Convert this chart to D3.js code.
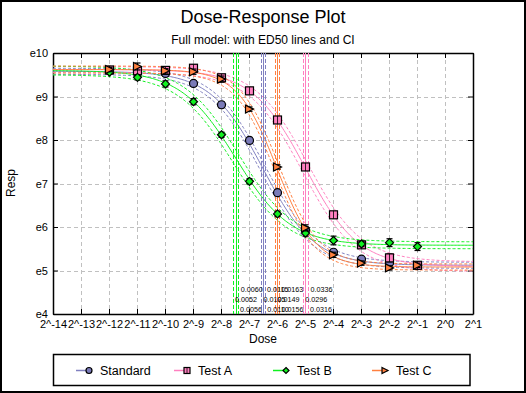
<!DOCTYPE html>
<html><head><meta charset="utf-8">
<script src="https://cdnjs.cloudflare.com/ajax/libs/d3/7.8.5/d3.min.js"></script>
<style>
html,body{margin:0;padding:0;background:#fff;}
svg{display:block;font-family:"Liberation Sans",Arial,sans-serif;}
</style></head>
<body>
<script>
// ---- data ----
const doseLog2 = [-12,-11,-10,-9,-8,-7,-6,-5,-4,-3,-2,-1];           // dose = 2^x
const seriesNames = ["Standard","Test A","Test B","Test C"];
// responses as powers of ten (e.g. 9.5 means e9.5)
const standardResp = [9.59,9.56,9.53,9.30,8.81,7.99,6.79,5.93,5.42,5.26,5.17,5.11];
const testAResp    = [9.61,9.59,9.60,9.65,9.43,9.13,8.46,7.38,6.28,5.59,5.29,5.12];
const testBResp    = [9.56,9.44,9.29,8.88,8.12,7.05,6.30,5.86,5.69,5.61,5.64,5.55];
const testCResp    = [9.62,9.69,9.59,9.57,9.40,8.71,7.38,5.98,5.36,5.17,5.06,5.12];
const standardErr  = [0.05,0.05,0.05,0.06,0.07,0.07,0.06,0.07,0.06,0.05,0.05,0.05];
const testAErr     = [0.05,0.06,0.05,0.08,0.06,0.05,0.05,0.05,0.05,0.05,0.09,0.05];
const testBErr     = [0.05,0.06,0.07,0.07,0.06,0.06,0.06,0.07,0.10,0.06,0.09,0.09];
const testCErr     = [0.05,0.08,0.05,0.06,0.07,0.05,0.05,0.07,0.06,0.05,0.05,0.05];
// fitted 4-parameter model: top, bottom (powers of ten), slope, ED50 with CI
const fitTop    = [9.58,9.62,9.60,9.62];
const fitBottom = [5.12,5.09,5.58,5.08];
const fitSlope  = [1.08,1.05,1.02,1.42];
const ed50      = [0.0110,0.0316,0.0056,0.0156];
const ed50Lower = [0.0105,0.0296,0.0052,0.0149];
const ed50Upper = [0.0115,0.0336,0.0060,0.0163];
const topCI     = [0.07,0.07,0.10,0.08];
const bottomCI  = [0.07,0.11,0.08,0.07];
const xTickLog2 = d3.range(-14, 2);          // 2^-14 .. 2^1
const yTickPow  = [4,5,6,7,8,9,10];          // e4 .. e10

const colors = ["#8080c0","#ff80c0","#10f020","#ff8040"];
const fills  = ["#7a7ab8","#ff80c0","#10f020","#ff8040"];
const markerTypes = ["circle","square","diamond","triangle"];
const respData = [standardResp,testAResp,testBResp,testCResp];
const errData  = [standardErr,testAErr,testBErr,testCErr];

// ---- layout ----
const W=526,H=393;
const L=53,R=473,T=53,B=314;
const svg=d3.select("body").append("svg").attr("width",W).attr("height",H);
svg.append("rect").attr("x",1).attr("y",1).attr("width",W-2).attr("height",H-2)
  .attr("fill","#fff").attr("stroke","#000").attr("stroke-width",2);

const x=d3.scaleLog().base(2).domain([Math.pow(2,-14),Math.pow(2,1)]).range([L,R]);
const y=d3.scaleLinear().domain([4,10]).range([B,T]);
const xTicks=xTickLog2.map(v=>Math.pow(2,v));

// title
svg.append("text").attr("x",263).attr("y",23).attr("text-anchor","middle")
  .attr("font-size",18).text("Dose-Response Plot");
svg.append("text").attr("x",263).attr("y",44).attr("text-anchor","middle")
  .attr("font-size",12).text("Full model: with ED50 lines and CI");

// grid
const grid=svg.append("g").attr("stroke","#c0c0c0").attr("stroke-dasharray","4,3").attr("stroke-width",1);
xTicks.slice(1,-1).forEach(t=>grid.append("line").attr("x1",Math.round(x(t))+0.5).attr("x2",Math.round(x(t))+0.5).attr("y1",T).attr("y2",B));
yTickPow.slice(1,-1).forEach(t=>grid.append("line").attr("y1",Math.round(y(t))+0.5).attr("y2",Math.round(y(t))+0.5).attr("x1",L).attr("x2",R));

// axes
const fmtX=d=>"2^"+Math.round(Math.log2(d));
const gx=svg.append("g").attr("transform",`translate(0,${B})`)
  .call(d3.axisBottom(x).tickValues(xTicks).tickFormat(fmtX).tickSizeInner(-5).tickSizeOuter(0).tickPadding(6));
const gxt=svg.append("g").attr("transform",`translate(0,${T})`)
  .call(d3.axisTop(x).tickValues(xTicks).tickFormat("").tickSizeInner(-5).tickSizeOuter(0));
const gy=svg.append("g").attr("transform",`translate(${L},0)`)
  .call(d3.axisLeft(y).tickValues(yTickPow).tickFormat(d=>"e"+d).tickSizeInner(-5).tickSizeOuter(0).tickPadding(5));
const gyr=svg.append("g").attr("transform",`translate(${R},0)`)
  .call(d3.axisRight(y).tickValues(yTickPow).tickFormat("").tickSizeInner(-5).tickSizeOuter(0));
[gx,gxt,gy,gyr].forEach(g=>{
  g.selectAll("path").attr("stroke","#000").attr("stroke-width",1.5);
  g.selectAll("line").attr("stroke","#000");
  g.selectAll("text").attr("font-size",11).attr("fill","#000").attr("font-family","Liberation Sans, Arial, sans-serif");
});

// axis titles
svg.append("text").attr("x",263).attr("y",343).attr("text-anchor","middle").attr("font-size",12).text("Dose");
svg.append("text").attr("transform","translate(15,183) rotate(-90)").attr("text-anchor","middle").attr("font-size",12).text("Resp");

// fitted curves
const curveX=d3.range(-14,1.0001,0.05);
function model(i,lx,top,bot,e){
  return bot+(top-bot)/(1+Math.exp(fitSlope[i]*(lx-Math.log2(e))));
}
const line=d3.line().x(d=>x(Math.pow(2,d[0]))).y(d=>y(d[1]));
const curves=svg.append("g").attr("fill","none");
[0,1,2,3].forEach(i=>{
  const fit=curveX.map(lx=>[lx,model(i,lx,fitTop[i],fitBottom[i],ed50[i])]);
  const up=curveX.map(lx=>[lx,model(i,lx,fitTop[i]+topCI[i],fitBottom[i]+bottomCI[i],ed50Upper[i])]);
  const lo=curveX.map(lx=>[lx,model(i,lx,fitTop[i]-topCI[i],fitBottom[i]-bottomCI[i],ed50Lower[i])]);
  [up,lo].forEach(c=>curves.append("path").attr("d",line(c)).attr("stroke",colors[i]).attr("stroke-width",1).attr("stroke-dasharray","3,2"));
  curves.append("path").attr("d",line(fit)).attr("stroke",colors[i]).attr("stroke-width",1);
});

// ED50 lines
const edg=svg.append("g");
[0,1,2,3].forEach(i=>{
  [[ed50Lower[i],"4,2"],[ed50[i],null],[ed50Upper[i],"4,2"]].forEach(([v,da])=>{
    const xx=Math.round(x(v))+0.5;
    const l=edg.append("line").attr("x1",xx).attr("x2",xx).attr("y1",T).attr("y2",B)
      .attr("stroke",colors[i]).attr("stroke-width",1);
    if(da) l.attr("stroke-dasharray",da);
  });
});

// ED50 labels
const fmt4=d3.format(".4f");
const lab=svg.append("g").attr("font-size",7.2).attr("fill","#000");
[0,1,2,3].forEach(i=>{
  lab.append("text").attr("x",x(ed50Upper[i])+2.5).attr("y",292).text(fmt4(ed50Upper[i]));
  lab.append("text").attr("x",x(ed50Lower[i])+2.5).attr("y",302).text(fmt4(ed50Lower[i]));
  lab.append("text").attr("x",x(ed50[i])+4.5).attr("y",312).text(fmt4(ed50[i]));
});

// markers
function marker(g,type,cx,cy,s,fill){
  if(type==="circle"){
    g.append("circle").attr("cx",cx).attr("cy",cy).attr("r",s/2).attr("fill",fill).attr("stroke","#000").attr("stroke-width",1.2);
  } else if(type==="square"){
    g.append("rect").attr("x",cx-s/2).attr("y",cy-s/2).attr("width",s).attr("height",s).attr("fill",fill).attr("stroke","#000").attr("stroke-width",1.2);
    g.append("line").attr("x1",cx).attr("x2",cx).attr("y1",cy-s/2).attr("y2",cy+s/2).attr("stroke","#000").attr("stroke-width",0.8);
  } else if(type==="diamond"){
    const r=s/2;
    g.append("path").attr("d",`M${cx},${cy-r}L${cx+r},${cy}L${cx},${cy+r}L${cx-r},${cy}Z`).attr("fill",fill).attr("stroke","#000").attr("stroke-width",1.2);
  } else {
    const r=s/2;
    g.append("path").attr("d",`M${cx-r},${cy-r}L${cx+r},${cy}L${cx-r},${cy+r}Z`).attr("fill",fill).attr("stroke","#000").attr("stroke-width",1.2);
  }
}
const pts=svg.append("g");
[0,1,2,3].forEach(i=>{
  doseLog2.forEach((d,j)=>{
    const cx=Math.round(x(Math.pow(2,d)))+0.5;
    const v=respData[i][j], e=errData[i][j];
    const y1=y(v+e), y2=y(v-e);
    pts.append("line").attr("x1",cx).attr("x2",cx).attr("y1",y1).attr("y2",y2).attr("stroke","#000").attr("stroke-width",1.2);
    pts.append("line").attr("x1",cx-3).attr("x2",cx+3).attr("y1",y1).attr("y2",y1).attr("stroke","#000").attr("stroke-width",1.2);
    pts.append("line").attr("x1",cx-3).attr("x2",cx+3).attr("y1",y2).attr("y2",y2).attr("stroke","#000").attr("stroke-width",1.2);
    marker(pts,markerTypes[i],cx,y(v),8,fills[i]);
  });
});

// legend
const lg=svg.append("g");
lg.append("rect").attr("x",53.5).attr("y",354.5).attr("width",416.5).attr("height",31)
  .attr("fill","#fff").attr("stroke","#000").attr("stroke-width",1.5);
const legX=[76,174,273,372];
seriesNames.forEach((n,i)=>{
  const lx=legX[i], ly=370.5;
  lg.append("line").attr("x1",lx).attr("x2",lx+16).attr("y1",ly).attr("y2",ly).attr("stroke",colors[i]).attr("stroke-width",1.5);
  marker(lg,markerTypes[i],lx+13,ly,6,fills[i]);
  lg.append("text").attr("x",lx+24).attr("y",ly+4.5).attr("font-size",12.5).text(n);
});
</script>
</body></html>
